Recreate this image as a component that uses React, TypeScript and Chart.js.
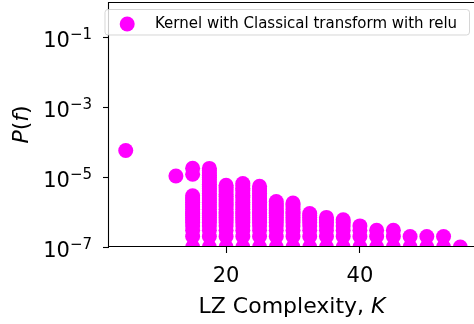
import React, { useEffect, useRef } from "react";
import { Chart, registerables } from "chart.js";

Chart.register(...registerables);

// LZ complexity of each column of functions
const complexity = [5, 12.5, 15, 17.5, 20, 22.5, 25, 27.5, 30, 32.5, 35, 37.5, 40, 42.5, 45, 47.5, 50, 52.5, 55];

// total number of sampled functions
const TOTAL_SAMPLES = 1e7;

// how often each distinct function was sampled, grouped by complexity
const sampleCounts = [
  [571],
  [107],
  [178, 120, 29, 25, 22, 19, 16, 14, 12, 10, 9, 8, 7, 6, 5, 4, 3, 2, 1],
  [176, 152, 131, 113, 97, 84, 72, 62, 53, 46, 40, 34, 29, 25, 22, 19, 16, 14, 12, 10, 9, 8, 7, 6, 5, 4, 3, 2, 1],
  [58, 50, 43, 37, 32, 28, 24, 21, 18, 16, 14, 12, 10, 9, 8, 7, 6, 5, 4, 3, 2, 1],
  [65, 56, 48, 41, 35, 30, 26, 22, 19, 16, 14, 12, 10, 9, 8, 7, 6, 5, 4, 3, 2, 1],
  [54, 46, 40, 34, 29, 25, 22, 19, 16, 14, 12, 10, 9, 8, 7, 6, 5, 4, 3, 2, 1],
  [20, 17, 15, 13, 11, 10, 9, 8, 7, 6, 5, 4, 3, 2, 1],
  [18, 16, 14, 12, 10, 9, 8, 7, 6, 5, 4, 3, 2, 1],
  [9, 8, 7, 6, 5, 4, 3, 2, 1],
  [7, 6, 5, 4, 3, 2, 1],
  [6, 5, 4, 3, 2, 1],
  [4, 3, 2, 1],
  [3, 2, 1],
  [3, 2, 1],
  [2, 1],
  [2, 1],
  [2, 1],
  [1],
];

const xTickValues = [20, 40];
const yTickExponents = [-7, -5, -3, -1];

const SERIES_LABEL = "Kernel with Classical transform with relu";
const MAGENTA = "#ff00ff";
const FONT = '"DejaVu Sans"';

const decorations = {
  id: "decorations",
  afterDatasetsDraw(chart: any) {
    const { ctx, chartArea: a } = chart;
    ctx.save();
    ctx.strokeStyle = "#000";
    ctx.lineWidth = 1.1;
    ctx.beginPath();
    ctx.moveTo(a.left - 0.5, a.top + 0.5);
    ctx.lineTo(a.right + 4, a.top + 0.5);
    ctx.moveTo(a.left - 0.5, a.top);
    ctx.lineTo(a.left - 0.5, a.bottom - 0.5);
    ctx.lineTo(a.right + 4, a.bottom - 0.5);
    ctx.stroke();
    ctx.restore();
  },
  afterDraw(chart: any) {
    const { ctx, chartArea: a, scales } = chart;
    ctx.save();
    ctx.fillStyle = "#000";
    ctx.textAlign = "left";
    ctx.textBaseline = "alphabetic";

    // y tick labels as powers of ten
    for (const e of yTickExponents) {
      const y = scales.y.getPixelForValue(Math.pow(10, e));
      const base = "10";
      const exp = (e < 0 ? "\u2212" : "") + Math.abs(e);
      ctx.font = `21px ${FONT}`;
      const wb = ctx.measureText(base).width;
      ctx.font = `15px ${FONT}`;
      const we = ctx.measureText(exp).width;
      const right = a.left - 17;
      ctx.font = `21px ${FONT}`;
      ctx.fillText(base, right - we - wb, y + 9.5);
      ctx.font = `15px ${FONT}`;
      ctx.fillText(exp, right - we, y + 1.5);
    }

    // x tick labels
    ctx.font = `21px ${FONT}`;
    ctx.textAlign = "center";
    for (const v of xTickValues) {
      ctx.fillText(String(v), scales.x.getPixelForValue(v), a.bottom + 35);
    }

    // x axis title
    ctx.textAlign = "left";
    const t1 = "LZ Complexity, ";
    const t2 = "K";
    ctx.font = `22px ${FONT}`;
    const w1 = ctx.measureText(t1).width;
    ctx.font = `italic 22px ${FONT}`;
    const w2 = ctx.measureText(t2).width;
    const cx = 292;
    ctx.font = `22px ${FONT}`;
    ctx.fillText(t1, cx - (w1 + w2) / 2, a.bottom + 66);
    ctx.font = `italic 22px ${FONT}`;
    ctx.fillText(t2, cx - (w1 + w2) / 2 + w1, a.bottom + 66);

    // y axis title
    ctx.save();
    ctx.translate(28, (a.top + a.bottom) / 2);
    ctx.rotate(-Math.PI / 2);
    const parts: [string, boolean][] = [["P", true], ["(", false], ["f", true], [")", false]];
    let total = 0;
    const widths: number[] = [];
    for (const [s, it] of parts) {
      ctx.font = `${it ? "italic " : ""}22px ${FONT}`;
      const w = ctx.measureText(s).width;
      widths.push(w);
      total += w;
    }
    let px = -total / 2;
    parts.forEach(([s, it], i) => {
      ctx.font = `${it ? "italic " : ""}22px ${FONT}`;
      ctx.fillText(s, px, 0);
      px += widths[i];
    });
    ctx.restore();

    // legend
    const bx = 105, by = 9.5, bw = 364.5, bh = 25.5, r = 3;
    ctx.beginPath();
    ctx.moveTo(bx + r, by);
    ctx.lineTo(bx + bw - r, by);
    ctx.arcTo(bx + bw, by, bx + bw, by + r, r);
    ctx.lineTo(bx + bw, by + bh - r);
    ctx.arcTo(bx + bw, by + bh, bx + bw - r, by + bh, r);
    ctx.lineTo(bx + r, by + bh);
    ctx.arcTo(bx, by + bh, bx, by + bh - r, r);
    ctx.lineTo(bx, by + r);
    ctx.arcTo(bx, by, bx + r, by, r);
    ctx.closePath();
    ctx.fillStyle = "rgba(255,255,255,0.8)";
    ctx.fill();
    ctx.strokeStyle = "rgba(204,204,204,0.8)";
    ctx.lineWidth = 1;
    ctx.stroke();

    ctx.beginPath();
    ctx.arc(127.2, 24, 7.5, 0, Math.PI * 2);
    ctx.fillStyle = MAGENTA;
    ctx.fill();

    ctx.fillStyle = "#000";
    ctx.font = `15px ${FONT}`;
    ctx.fillText(chart.data.datasets[0].label, 155, 28.3);
    ctx.restore();
  },
};

export default function App() {
  const canvasRef = useRef<HTMLCanvasElement | null>(null);

  useEffect(() => {
    const canvas = canvasRef.current;
    if (!canvas) return;
    const points = complexity.flatMap((k, i) =>
      sampleCounts[i].map((c) => ({ x: k, y: c / TOTAL_SAMPLES }))
    );
    const chart = new Chart(canvas, {
      type: "scatter",
      data: {
        datasets: [
          {
            label: SERIES_LABEL,
            data: points,
            pointRadius: 7.5,
            pointHoverRadius: 7.5,
            pointBackgroundColor: MAGENTA,
            pointBorderWidth: 0,
            borderColor: MAGENTA,
            clip: 0,
          } as any,
        ],
      },
      options: {
        animation: false,
        responsive: false,
        maintainAspectRatio: false,
        devicePixelRatio: 1,
        events: [],
        layout: { autoPadding: false, padding: { top: 2, left: 0, right: 0, bottom: 0 } },
        plugins: { legend: { display: false }, tooltip: { enabled: false } },
        scales: {
          x: {
            type: "linear",
            min: 2.5,
            max: 57.05,
            afterBuildTicks: (s: any) => {
              s.ticks = xTickValues.map((v) => ({ value: v }));
            },
            afterFit: (s: any) => {
              s.height = 77;
            },
            ticks: { display: false },
            grid: {
              display: true,
              drawOnChartArea: false,
              drawTicks: true,
              tickLength: 6,
              tickWidth: 1.1,
              tickColor: "#000",
            },
            border: { display: false },
          },
          y: {
            type: "logarithmic",
            min: 1e-7,
            max: 1,
            afterBuildTicks: (s: any) => {
              s.ticks = yTickExponents.map((e) => ({ value: Math.pow(10, e) }));
            },
            afterFit: (s: any) => {
              s.width = 109;
            },
            ticks: { display: false },
            grid: {
              display: true,
              drawOnChartArea: false,
              drawTicks: true,
              tickLength: 6,
              tickWidth: 1.1,
              tickColor: "#000",
            },
            border: { display: false },
          },
        },
      } as any,
      plugins: [decorations],
    });
    return () => chart.destroy();
  }, []);

  return (
    <div style={{ position: "fixed", left: 0, top: 0, width: 474, height: 324, background: "#fff" }}>
      <canvas ref={canvasRef} width={474} height={324} style={{ display: "block" }} />
    </div>
  );
}
